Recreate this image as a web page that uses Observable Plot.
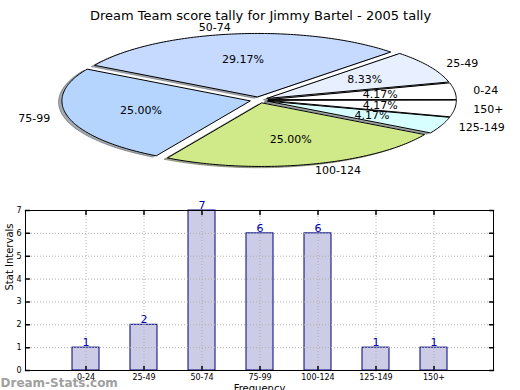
<!DOCTYPE html>
<html><head><meta charset="utf-8">
<script src="https://cdn.jsdelivr.net/npm/d3@7"></script>
<script src="https://cdn.jsdelivr.net/npm/@observablehq/plot@0.6"></script>
<style>
body{margin:0;background:#fff;}
#chart{position:relative;width:520px;height:390px;overflow:hidden;font-family:"DejaVu Sans";}
#pie{position:absolute;left:0;top:0;}
#bars{position:absolute;left:0;top:200px;}
</style>
</head><body><div id="chart"><div id="pie"></div><div id="bars"></div></div>
<script>
const title = "Dream Team score tally for Jimmy Bartel - 2005 tally";
const categories = ["0-24","25-49","50-74","75-99","100-124","125-149","150+"];
const counts = [1,2,7,6,6,1,1];
const sliceColors = ["#ffffff","#e8f0ff","#c6d9ff","#b5d5ff","#d0ea8a","#d8ffff","#ffffff"];
const yTicks = [0,1,2,3,4,5,6,7];
const yLabel = "Stat Intervals";
const xLabel = "Frequency";
const watermark = "Dream-Stats.com";

// pie layout
const cx = 258.5, cy = 99.5, rx = 188, ry = 63.4, explode = 0.05;
const total = d3.sum(counts);
let acc = 0;
const slices = categories.map((cat, i) => {
  const a0 = acc / total * 2 * Math.PI; acc += counts[i];
  const a1 = acc / total * 2 * Math.PI; const mid = (a0 + a1) / 2;
  return {cat, count: counts[i], color: sliceColors[i], a0, a1, mid,
    ox: cx + explode * rx * Math.cos(mid), oy: cy - explode * ry * Math.sin(mid),
    pct: (counts[i] / total * 100).toFixed(2) + "%"};
});
function outline(s, dx = 0, dy = 0) {
  const pts = [{x: s.ox + dx, y: s.oy + dy}];
  const n = Math.max(2, Math.ceil((s.a1 - s.a0) / (Math.PI / 180)));
  for (let k = 0; k <= n; k++) {
    const t = s.a0 + (s.a1 - s.a0) * k / n;
    pts.push({x: s.ox + dx + rx * Math.cos(t), y: s.oy + dy - ry * Math.sin(t)});
  }
  return pts;
}
function shade(c) { const r = d3.rgb(c); return d3.rgb(r.r * 0.3, r.g * 0.3, r.b * 0.3).formatHex(); }
const lx = s => s.ox + 1.1 * rx * Math.cos(s.mid);
const ly = s => s.oy - 1.1 * ry * Math.sin(s.mid);

const pie = Plot.plot({
  width: 520, height: 200, margin: 0,
  x: {domain: [0, 520], range: [0, 520], axis: null},
  y: {domain: [0, 200], range: [0, 200], axis: null},
  style: {fontFamily: "DejaVu Sans", background: "transparent"},
  marks: [
    ...slices.map(s => Plot.line(outline(s, -0.018 * rx, 0.02 * ry), {x: "x", y: "y", curve: "linear-closed",
      fill: shade(s.color), stroke: shade(s.color), fillOpacity: 0.45, strokeOpacity: 0.45, strokeWidth: 1})),
    ...slices.map(s => Plot.line(outline(s), {x: "x", y: "y", curve: "linear-closed",
      fill: s.color, stroke: "black", strokeWidth: 1})),
    Plot.text(slices.filter(s => Math.cos(s.mid) >= 0), {x: lx, y: ly, text: "cat", textAnchor: "start", fontSize: 11, fill: "black"}),
    Plot.text(slices.filter(s => Math.cos(s.mid) < 0), {x: lx, y: ly, text: "cat", textAnchor: "end", fontSize: 11, fill: "black"}),
    Plot.text(slices, {x: s => s.ox + 0.6 * rx * Math.cos(s.mid), y: s => s.oy - 0.6 * ry * Math.sin(s.mid), text: "pct", fontSize: 11, fill: "black"}),
    Plot.text([title], {frameAnchor: "top", dy: 10, fontSize: 13, fill: "black"})
  ]
});
document.getElementById("pie").append(pie);

const barData = categories.map((cat, i) => ({cat, count: counts[i]}));
const tickShape = {draw(context, l) { context.moveTo(0, 0); context.lineTo(0, -l); }};
const bars = Plot.plot({
  width: 520, height: 190, marginTop: 10, marginBottom: 20, marginLeft: 25, marginRight: 27,
  style: {fontFamily: "DejaVu Sans", fontSize: "8px", background: "transparent"},
  x: {type: "band", domain: categories, paddingInner: 0.54, paddingOuter: 0.77, axis: null, label: null},
  y: {domain: [0, 7], axis: null, label: null},
  marks: [
    Plot.barY(barData, {x: "cat", y: "count", fill: "#cccce6", stroke: "#000080", strokeWidth: 1}),
    Plot.gridY(yTicks, {stroke: "#b0b0b0", strokeOpacity: 1, strokeDasharray: "1,2"}),
    Plot.gridX(categories, {stroke: "#b0b0b0", strokeOpacity: 1, strokeDasharray: "1,2"}),
    Plot.frame({stroke: "black"}),
    Plot.vector(yTicks, {y: d => d, frameAnchor: "left", length: 4, rotate: 90, anchor: "start", shape: tickShape, stroke: "black"}),
    Plot.vector(yTicks, {y: d => d, frameAnchor: "right", length: 4, rotate: -90, anchor: "start", shape: tickShape, stroke: "black"}),
    Plot.vector(categories, {x: d => d, frameAnchor: "bottom", length: 4, rotate: 0, anchor: "start", shape: tickShape, stroke: "black"}),
    Plot.vector(categories, {x: d => d, frameAnchor: "top", length: 4, rotate: 180, anchor: "start", shape: tickShape, stroke: "black"}),
    Plot.axisY(yTicks, {tickSize: 0, tickPadding: 4, fontSize: 8, label: null}),
    Plot.axisX(categories, {tickSize: 0, tickPadding: 4, fontSize: 8, label: null}),
    Plot.text(barData, {x: "cat", y: "count", text: d => String(d.count), dy: -5, fill: "#0000aa", fontSize: 11}),
    Plot.text([yLabel], {frameAnchor: "left", dx: -16, rotate: -90, fontSize: 10, fill: "black"}),
    Plot.text([xLabel], {frameAnchor: "bottom", dy: 14, lineAnchor: "top", fontSize: 10, fill: "black"}),
    Plot.text([watermark], {frameAnchor: "bottom-left", dx: -25, dy: 16, textAnchor: "start", lineAnchor: "bottom", fontWeight: "bold", fontSize: 12, fill: "#a0a0a0"})
  ]
});
document.getElementById("bars").append(bars);
</script>
</body></html>
